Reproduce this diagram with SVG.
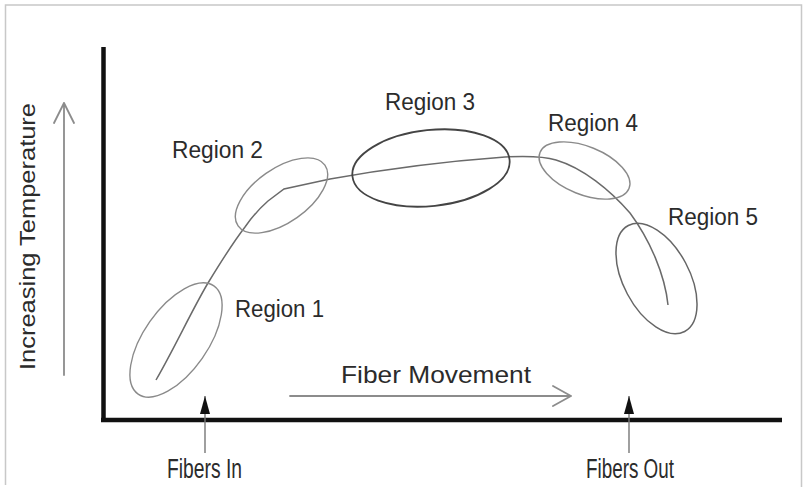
<svg xmlns="http://www.w3.org/2000/svg" width="803" height="487" viewBox="0 0 803 487">
<defs>
<style>
.lbl{font-family:"Liberation Sans",Arial,sans-serif;fill:#2b2b2b}
.ell{fill:none;stroke:#8a8a8a;stroke-width:1.4}
.axis{stroke:#111;stroke-width:4.5;fill:none}
.open{stroke:#8c8c8c;stroke-width:1.8;fill:none;stroke-linecap:round;stroke-linejoin:round}
.fib{stroke:#777;stroke-width:1.4;fill:none}
</style>
<marker id="solid" viewBox="0 0 18 10" refX="18" refY="5" markerWidth="18" markerHeight="10" markerUnits="userSpaceOnUse" orient="auto">
<path d="M0,0 L18,5 L0,10 Z" fill="#111"/>
</marker>
</defs>
<rect width="803" height="487" fill="#fff"/>
<g id="frame" stroke="#c8c8c8" stroke-width="1.5" fill="none">
<path d="M5.5,485 V5 H801.5 V487"/>
</g>
<g id="axes">
<line class="axis" x1="103.5" y1="47" x2="103.5" y2="422"/>
<line class="axis" x1="101" y1="420" x2="782" y2="420"/>
</g>
<g id="temp-axis-label">
<path class="open" d="M64,375 V103 M54,123 L64,103 L74,123"/>
<text class="lbl" transform="translate(35,236.5) rotate(-90)" text-anchor="middle" font-size="22.5" textLength="267" lengthAdjust="spacingAndGlyphs">Increasing Temperature</text>
</g>
<g id="connectors">
<path d="M156,380 C175,347 192,310 208,283 C222,260 235,240 245,227 C252,217 260,208 268,201 L284,189 L330,179 C380,170 450,161 505,157 C525,156 543,156 556,160 C583,168 610,190 630,213 C650,240 665,275 668,305" fill="none" stroke="#6a6a6a" stroke-width="1.5"/>
<path class="open" d="M290,396 H571 M553,386 L571,396 L553,406"/>
<line class="fib" x1="205" y1="453" x2="205" y2="396" marker-end="url(#solid)"/>
<line class="fib" x1="629" y1="453" x2="629" y2="396" marker-end="url(#solid)"/>
</g>
<g id="region1">
<ellipse class="ell" cx="176" cy="340" rx="66" ry="32" transform="rotate(-55 176 340)"/>
<text class="lbl" x="235" y="317" font-size="23" textLength="89" lengthAdjust="spacingAndGlyphs">Region 1</text>
</g>
<g id="region2">
<ellipse class="ell" cx="281.5" cy="195.5" rx="53" ry="27" transform="rotate(-35 281.5 195.5)"/>
<text class="lbl" x="172" y="158" font-size="23" textLength="91" lengthAdjust="spacingAndGlyphs">Region 2</text>
</g>
<g id="region3">
<ellipse cx="431" cy="168" rx="79" ry="38" transform="rotate(-6 431 168)" fill="none" stroke="#444" stroke-width="1.8"/>
<text class="lbl" x="385" y="110" font-size="23" textLength="90" lengthAdjust="spacingAndGlyphs">Region 3</text>
</g>
<g id="region4">
<ellipse class="ell" cx="584.5" cy="170.5" rx="48" ry="24" transform="rotate(22 584.5 170.5)"/>
<text class="lbl" x="548" y="131" font-size="23" textLength="90" lengthAdjust="spacingAndGlyphs">Region 4</text>
</g>
<g id="region5">
<ellipse cx="656.5" cy="278.5" rx="60" ry="33" transform="rotate(62 656.5 278.5)" fill="none" stroke="#666" stroke-width="1.5"/>
<text class="lbl" x="668" y="225" font-size="23" textLength="90" lengthAdjust="spacingAndGlyphs">Region 5</text>
</g>
<g id="fiber-movement">
<text class="lbl" x="341" y="383" font-size="24" textLength="190" lengthAdjust="spacingAndGlyphs">Fiber Movement</text>
</g>
<g id="fibers-in">
<text class="lbl" x="167" y="478" font-size="27" textLength="75" lengthAdjust="spacingAndGlyphs">Fibers In</text>
</g>
<g id="fibers-out">
<text class="lbl" x="586" y="478" font-size="27" textLength="88" lengthAdjust="spacingAndGlyphs">Fibers Out</text>
</g>
</svg>
